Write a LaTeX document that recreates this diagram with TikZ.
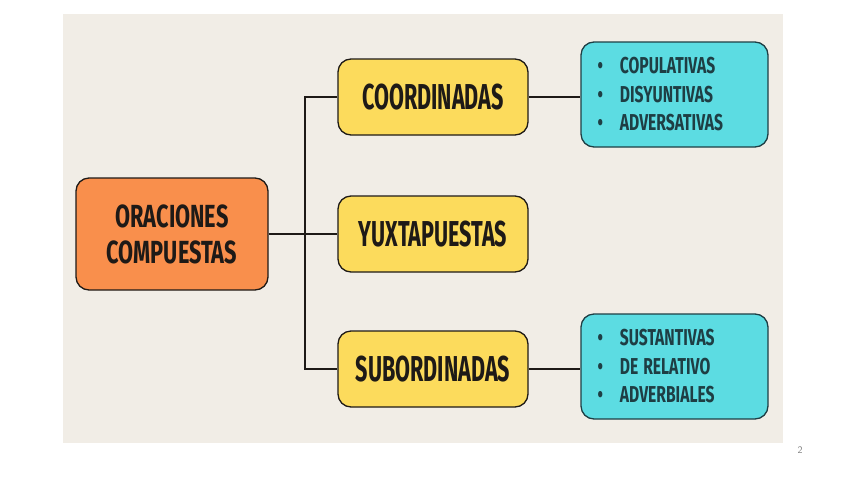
\documentclass[tikz,border=0pt]{standalone}
\usepackage{fontspec}
\usepackage{xcolor}
\usepackage{tikz}
\newfontfamily\condfont{Fira Sans}[FakeStretch=0.6]
\newfontfamily\semicondfont{Fira Sans}[FakeStretch=0.68]
\definecolor{paperbeige}{HTML}{F1EDE6}
\definecolor{rootorange}{HTML}{F98F4C}
\definecolor{kindyellow}{HTML}{FCDB5C}
\definecolor{listcyan}{HTML}{5CDCE2}
\definecolor{inkdark}{HTML}{1E1A17}
\definecolor{inkteal}{HTML}{1E3E44}

\begin{document}
\begin{tikzpicture}[x=1pt,y=-1pt,
    box/.style={draw=inkdark,line width=1.3pt,rounded corners=13pt,
      inner sep=0pt,text=inkdark},
    rootbox/.style={box,fill=rootorange,minimum width=192pt,minimum height=112pt,
      align=center,font=\semicondfont\bfseries\fontsize{32}{36}\selectfont},
    kindbox/.style={box,fill=kindyellow,minimum width=190pt,minimum height=76pt,
      font=\condfont\bfseries\fontsize{36}{36}\selectfont},
    listbox/.style={box,draw=inkteal,fill=listcyan,minimum width=187pt,minimum height=105pt,
      text width=154pt,align=left,text=inkteal,
      font=\semicondfont\bfseries\fontsize{23}{28.5}\selectfont},
    link/.style={draw=inkdark,line width=1.2pt}]
  % page and paper
  \useasboundingbox (0,0) rectangle (848,477);
  \fill[white] (0,0) rectangle (848,477);
  \fill[paperbeige] (63,14) rectangle (783,443);
  % boxes
  \node[rootbox] (oraciones) at (172,234) {ORACIONES\\COMPUESTAS};
  \node[kindbox] (coord) at (433,97) {COORDINADAS};
  \node[kindbox] (yuxta) at (433,234) {YUXTAPUESTAS};
  \node[kindbox] (subord) at (433,369) {SUBORDINADAS};
  \node[listbox] (coordlist) at (674.5,94.5)
    {\textbullet\hspace{17pt}COPULATIVAS\\\textbullet\hspace{17pt}DISYUNTIVAS\\\textbullet\hspace{17pt}ADVERSATIVAS};
  \node[listbox] (subordlist) at (674.5,366.5)
    {\textbullet\hspace{17pt}SUSTANTIVAS\\\textbullet\hspace{17pt}DE\hspace{5pt}RELATIVO\\\textbullet\hspace{17pt}ADVERBIALES};
  % connectors
  \coordinate (fork) at (305,234);
  \draw[link] (oraciones.east) -- (yuxta.west);
  \draw[link] (coord.west) -| (fork) |- (subord.west);
  \draw[link] (coord.east) -- (coord.east -| coordlist.west);
  \draw[link] (subord.east) -- (subord.east -| subordlist.west);
  % page number
  \node[text=gray,font=\sffamily\fontsize{10}{10}\selectfont] (pagenum) at (800,450) {2};
\end{tikzpicture}
\end{document}
